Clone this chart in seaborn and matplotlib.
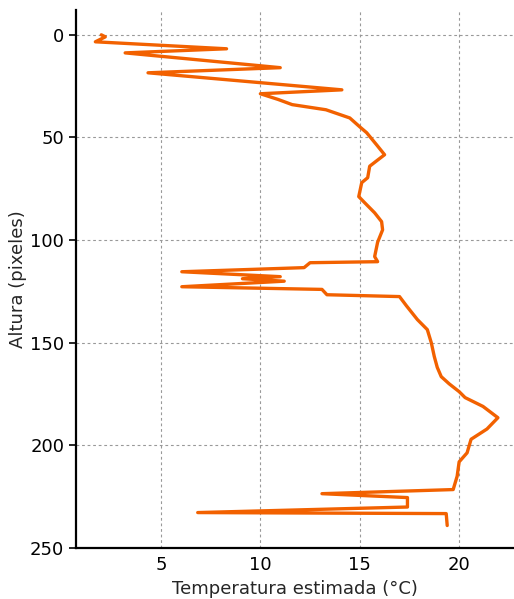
import matplotlib
matplotlib.use("Agg")
import matplotlib.pyplot as plt
import seaborn as sns

# Perfil de temperatura estimada por altura
altura = [0, 1, 3.4, 6.8, 8.8, 16, 18.5, 26.8, 28.7, 31.5, 34, 36.5, 40.5, 44.8, 47.7,
          53.6, 58.4, 61, 64, 69.6, 72, 78.8, 81.8, 86.7, 91, 95, 101, 108, 110.5,
          111, 113.4, 115.4, 117.8, 118.8, 120, 122.7, 124, 126.6, 127.5, 132,
          138.7, 143.6, 150, 156.7, 162, 166.5, 170, 173.8, 176.7, 181, 186.5, 192, 197,
          203.6, 208, 215, 221.5, 223.5, 225.4, 230, 232.7, 233.2, 239]
temperatura = [2.0, 2.2, 1.7, 8.3, 3.2, 11.0, 4.35, 14.1, 10.0, 10.9, 11.6, 13.3, 14.5,
               15.0, 15.35, 15.85, 16.25, 15.9, 15.5, 15.4, 15.1, 14.95, 15.25,
               15.75, 16.1, 16.15, 15.9, 15.75, 15.9, 12.5, 12.2, 6.05, 11.0, 9.1,
               11.2, 6.05, 13.1, 13.35, 17.0, 17.35, 17.9, 18.4, 18.6, 18.75, 18.9, 19.1,
               19.5, 20.0, 20.3, 21.2, 21.95, 21.4, 20.6, 20.4, 20.0, 19.9, 19.7, 13.1,
               17.4, 17.4, 6.85, 19.35, 19.4]

sns.set_style("white")
fig = plt.figure(figsize=(5.14, 5.99), dpi=100)
ax = fig.add_axes([0.148, 0.085, 0.852, 0.898])

sns.lineplot(x=temperatura, y=altura, sort=False, estimator=None,
             color="#f26100", linewidth=2.4, ax=ax)

ax.set_xlim(0.73, 22.76)
ax.set_ylim(250, -12)
ax.set_xticks([5, 10, 15, 20])
ax.set_yticks([0, 50, 100, 150, 200, 250])
ax.grid(True, linestyle=(0, (2.5, 2.5)), color="#999999", linewidth=0.8)
ax.set_xlabel("Temperatura estimada (°C)", fontsize=13)
ax.set_ylabel("Altura (pixeles)", fontsize=13, labelpad=2)
ax.tick_params(axis="both", labelsize=13, colors="black")
ax.tick_params(axis="x", length=0, pad=6)
ax.tick_params(axis="y", length=5, width=1.2, left=True)
sns.despine(ax=ax)
for s in ["left", "bottom"]:
    ax.spines[s].set_color("black")
    ax.spines[s].set_linewidth(1.6)

fig.savefig("out.png", dpi=100)
